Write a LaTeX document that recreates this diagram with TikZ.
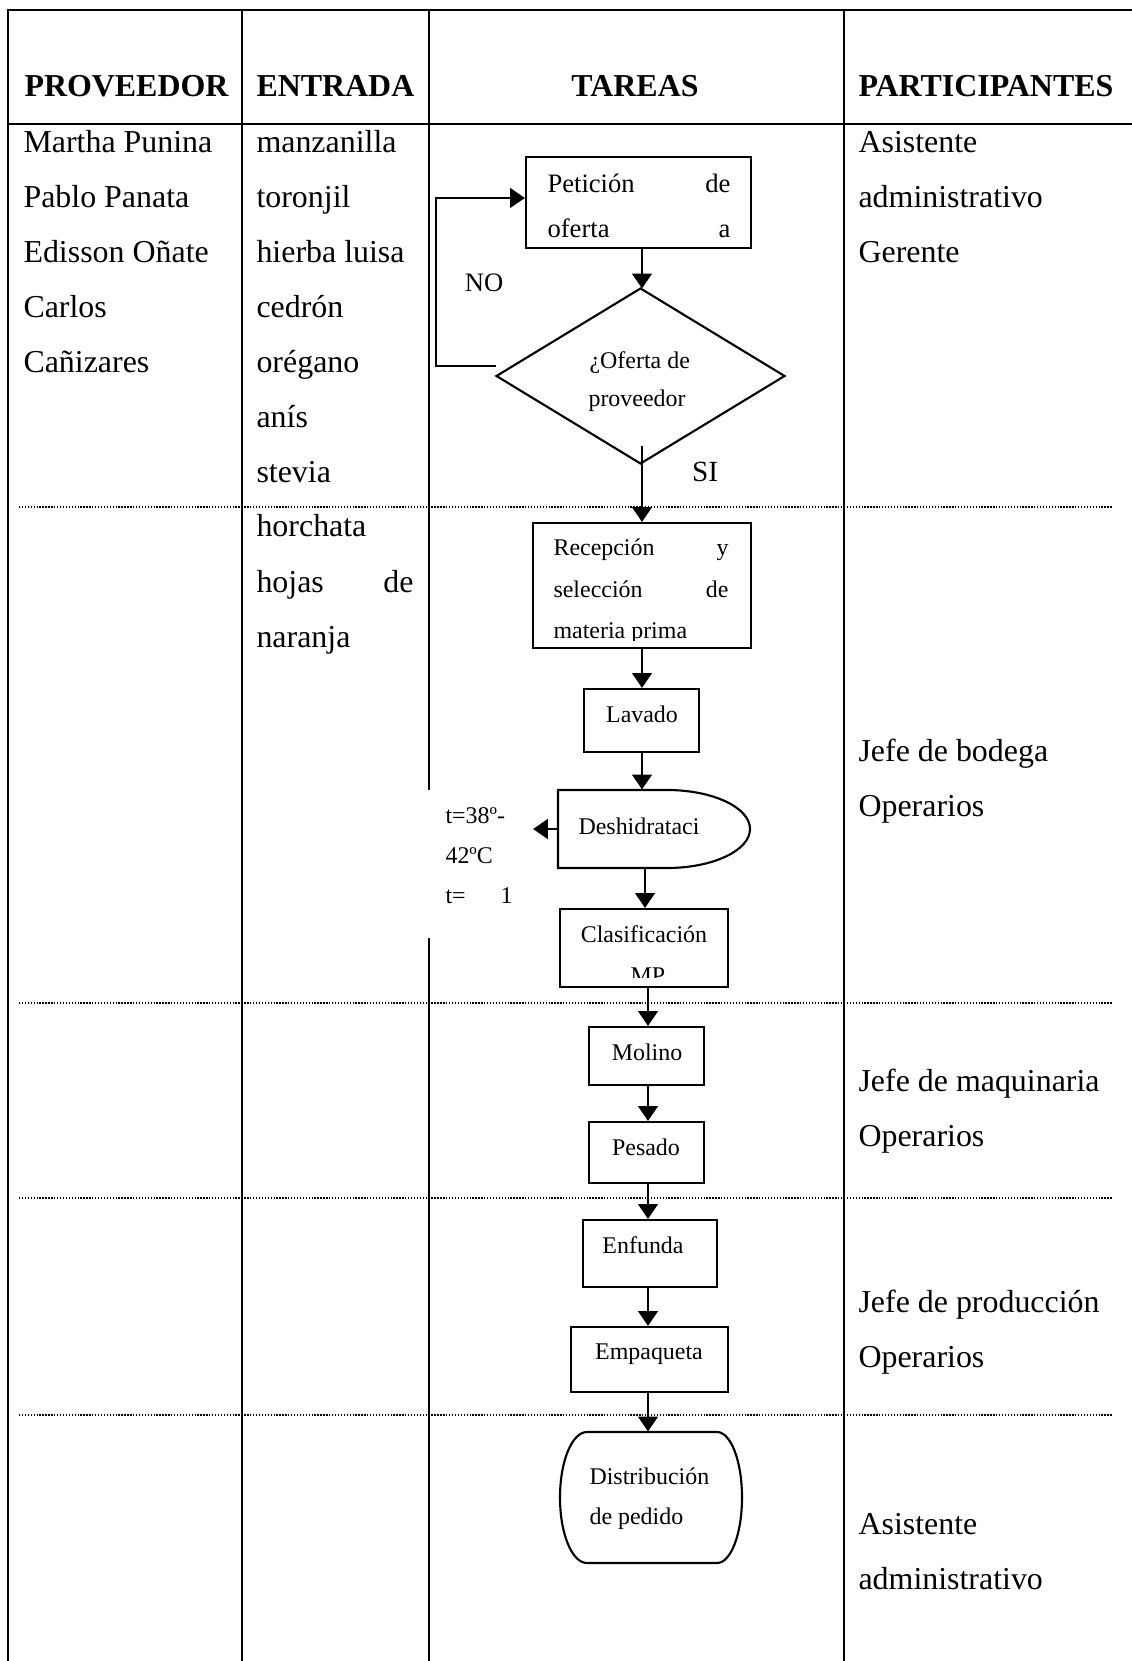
\documentclass[tikz,border=0pt]{standalone}
\usepackage{fontspec}
\setmainfont{Liberation Serif}
\usetikzlibrary{arrows.meta,fit}
\begin{document}
\begin{tikzpicture}[x=0.376pt, y=-0.376pt,
  rule/.style={line width=1pt, line cap=rect},
  lane/.style={line width=0.5pt, dash pattern=on 0.5pt off 0.6pt},
  stepbox/.style={draw, line width=0.8pt, inner sep=0pt},
  ghost/.style={inner sep=0pt},
  flow/.style={line width=0.9pt, -{Triangle[length=5.6pt,width=7.4pt]}},
  cell/.style={anchor=base west, inner sep=0pt, font=\fontsize{12}{14}\selectfont},
  head/.style={inner sep=0pt, font=\fontsize{12}{14}\selectfont\bfseries},
  ftxt/.style={inner sep=0pt, font=\fontsize{9}{11}\selectfont},
  fbig/.style={inner sep=0pt, font=\fontsize{10}{12}\selectfont},
]
\useasboundingbox (0,0) rectangle (1131,1661);

% ---------- table rules ----------
\draw[rule] (8,10) -- (1131,10);
\draw[rule] (8,124) -- (1131,124);
\draw[rule] (8,10) -- (8,1661);
\draw[rule] (242,10) -- (242,1661);
\draw[rule] (429,10) -- (429,789);
\draw[rule] (429,939) -- (429,1661);
\draw[rule] (844,10) -- (844,1661);
\foreach \yy in {507,1003,1198,1415} \draw[lane] (19,\yy) -- (1113,\yy);

% ---------- header ----------
\node[head, anchor=base west] (hprov) at (24,97) {PROVEEDOR};
\node[head, anchor=base west] (hent) at (256,97) {ENTRADA};
\node[head, anchor=base] (htar) at (635,97) {TAREAS};
\node[head, anchor=base west] (hpar) at (858,97) {PARTICIPANTES};

% ---------- proveedores ----------
\node[cell] (p1) at (23,153) {Martha Punina};
\node[cell] (p2) at (23,208) {Pablo Panata};
\node[cell] (p3) at (23,263) {Edisson Oñate};
\node[cell] (p4) at (23,318) {Carlos};
\node[cell] (p5) at (23,373) {Cañizares};

% ---------- entradas ----------
\node[cell] (e1) at (256,153) {manzanilla};
\node[cell] (e2) at (256,208) {toronjil};
\node[cell] (e3) at (256,263) {hierba luisa};
\node[cell] (e4) at (256,318) {cedrón};
\node[cell] (e5) at (256,373) {orégano};
\node[cell] (e6) at (256,428) {anís};
\node[cell] (e7) at (256,483) {stevia};
\node[cell] (e8) at (256,537) {horchata};
\node[cell] (e9) at (256,592) {\hbox to 59pt{hojas\hfill de}};
\node[cell] (e10) at (256,647) {naranja};

% ---------- participantes ----------
\node[cell] (r1) at (858,153) {Asistente};
\node[cell] (r2) at (858,208) {administrativo};
\node[cell] (r3) at (858,263) {Gerente};
\node[cell] (r4) at (858,761) {Jefe de bodega};
\node[cell] (r5) at (858,816) {Operarios};
\node[cell] (r6) at (858,1091) {Jefe de maquinaria};
\node[cell] (r7) at (858,1146) {Operarios};
\node[cell] (r8) at (858,1312) {Jefe de producción};
\node[cell] (r9) at (858,1367) {Operarios};
\node[cell] (r10) at (858,1534) {Asistente};
\node[cell] (r11) at (858,1589) {administrativo};

% ---------- flow shapes ----------
\node[stepbox, fit={(526,157) (751,248)}] (pet) {};
\node[ghost, fit={(497,289) (784,463)}] (dec) {};
\draw[line width=0.8pt] (dec.north) -- (dec.east) -- (dec.south) -- (dec.west) -- cycle;
\node[stepbox, fit={(533,523) (751,648)}] (rec) {};
\node[stepbox, fit={(584,689) (699,752)}] (lav) {};
\node[ghost, fit={(558,790) (750,868)}] (desh) {};
\draw[line width=0.8pt] (558,790) -- (667,790)
  .. controls (712.8,790) and (750,807.5) .. (750,829)
  .. controls (750,850.5) and (712.8,868) .. (667,868)
  -- (558,868) -- cycle;
\node[stepbox, fit={(560,909) (728,987)}] (cla) {};
\node[stepbox, fit={(589,1027) (704,1085)}] (mol) {};
\node[stepbox, fit={(589,1122) (704,1183)}] (pes) {};
\node[stepbox, fit={(583,1220) (717,1287)}] (enf) {};
\node[stepbox, fit={(571,1327) (728,1392)}] (emp) {};
\node[ghost, fit={(560,1432) (742,1563)}] (dist) {};
\draw[line width=0.8pt] (587,1432) -- (717,1432)
  .. controls (730.8,1432) and (742,1461) .. (742,1497.5)
  .. controls (742,1534) and (730.8,1563) .. (717,1563)
  -- (587,1563)
  .. controls (572.1,1563) and (560,1534) .. (560,1497.5)
  .. controls (560,1461) and (572.1,1432) .. (587,1432) -- cycle;

% ---------- flow texts ----------
\node[fbig, anchor=base west] (tpet1) at (547,193) {\hbox to 68.8pt{Petición\hfill de}};
\node[fbig, anchor=base west] (tpet2) at (547,238) {\hbox to 68.8pt{oferta\hfill a}};
\node[ftxt, anchor=base west] (tdec1) at (589,369) {¿Oferta de};
\node[ftxt, anchor=base west] (tdec2) at (588,407) {proveedor};
\node[fbig, anchor=base] (tno) at (484,292) {NO};
\node[inner sep=0pt, font=\fontsize{11}{13}\selectfont, anchor=base] (tsi) at (705,482) {SI};
\node[ftxt, anchor=base west] (trec1) at (553,555) {\hbox to 65.8pt{Recepción\hfill y}};
\node[ftxt, anchor=base west] (trec2) at (553,597) {\hbox to 65.8pt{selección\hfill de}};
\begin{scope}
  \clip (533,600) rectangle (751,640);
  \node[ftxt, anchor=base west] (trec3) at (553,638) {materia prima};
\end{scope}
\node[ftxt, anchor=base] (tlav) at (642,722) {Lavado};
\node[ftxt, anchor=base] (tdesh) at (639,834) {Deshidrataci};
\node[ftxt, anchor=base west] (tt1) at (445,823) {t=38º-};
\node[ftxt, anchor=base west] (tt2) at (445,863) {42ºC};
\node[ftxt, anchor=base west] (tt3) at (445,903) {\hbox to 25.2pt{t=\hfill 1}};
\node[ftxt, anchor=base] (tcla1) at (644,942) {Clasificación};
\begin{scope}
  \clip (560,950) rectangle (728,977);
  \node[ftxt, anchor=base] (tcla2) at (648,983) {MP};
\end{scope}
\node[ftxt, anchor=base] (tmol) at (647,1060) {Molino};
\node[ftxt, anchor=base] (tpes) at (646,1155) {Pesado};
\node[ftxt, anchor=base] (tenf) at (643,1253) {Enfunda};
\node[ftxt, anchor=base] (temp) at (649,1359) {Empaqueta};
\node[ftxt, anchor=base west] (tdis1) at (589,1484) {Distribución};
\node[ftxt, anchor=base west] (tdis2) at (589,1524) {de pedido};

% ---------- connectors ----------
\coordinate (axA) at (642,0);
\coordinate (axB) at (645,0);
\coordinate (axC) at (648,0);
\coordinate (sistart) at (642,446);
\coordinate (noend) at (496,366);
\coordinate (nocorner) at (436,198);
\coordinate (tempend) at (533,829);

\draw[flow] (axA |- pet.south) -- (axA |- dec.north);
\draw[flow] (noend) -| (nocorner) -- (pet.west |- nocorner);
\draw[flow] (sistart) -- (axA |- rec.north);
\draw[flow] (axA |- rec.south) -- (axA |- lav.north);
\draw[flow] (axA |- lav.south) -- (axA |- desh.north);
\draw[flow] (desh.west) -- (tempend);
\draw[flow] (axB |- desh.south) -- (axB |- cla.north);
\draw[flow] (axC |- cla.south) -- (axC |- mol.north);
\draw[flow] (axC |- mol.south) -- (axC |- pes.north);
\draw[flow] (axC |- pes.south) -- (axC |- enf.north);
\draw[flow] (axC |- enf.south) -- (axC |- emp.north);
\draw[flow] (axC |- emp.south) -- (axC |- dist.north);
\end{tikzpicture}
\end{document}
